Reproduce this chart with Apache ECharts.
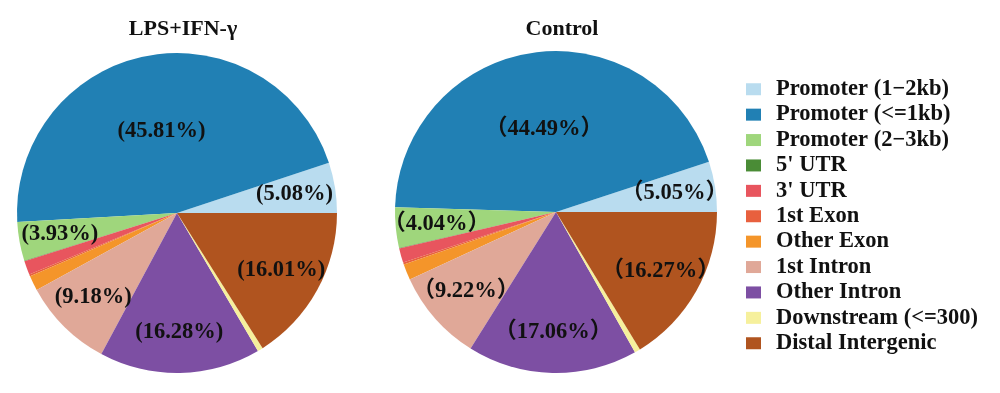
<!DOCTYPE html>
<html>
<head>
<meta charset="utf-8">
<script src="https://cdn.jsdelivr.net/npm/echarts@6/dist/echarts.min.js"></script>
<style>html,body{margin:0;padding:0;background:#fff;}#main{width:1000px;height:393px;}</style>
</head>
<body>
<div id="main"></div>
<script>
const categories = ['Promoter (1\u22122kb)', 'Promoter (<=1kb)', 'Promoter (2\u22123kb)', "5' UTR", "3' UTR", '1st Exon', 'Other Exon', '1st Intron', 'Other Intron', 'Downstream (<=300)', 'Distal Intergenic'];
const lpsValues = [5.08, 45.81, 3.93, 0.05, 1.40, 0.20, 1.51, 9.18, 16.28, 0.55, 16.01];
const ctrlValues = [5.05, 44.49, 4.04, 0.05, 1.45, 0.20, 1.60, 9.22, 17.06, 0.57, 16.27];
const labeledIdx = [0, 2, 7, 8, 10];
const bigIdx = 1;
const pieTitles = ['LPS+IFN-\u03b3', 'Control'];
const colors = ['#b9dcef', '#2180b4', '#9fd67c', '#4a8c36', '#e8555e', '#e8603e', '#f4952a', '#e0a898', '#7d4fa3', '#f6f09c', '#b0541f'];

const FONT = "'Liberation Serif', 'Noto Sans CJK SC', serif";
const chart = echarts.init(document.getElementById('main'), null, {renderer: 'canvas'});

function fmt(v, fullWidth) {
  return fullWidth ? '\uff08' + v.toFixed(2) + '%\uff09' : '(' + v.toFixed(2) + '%)';
}
const labelStyle = {color: '#111', fontFamily: FONT, fontWeight: 'bold', fontSize: 22.5};

function mainSeries(values, center, radius, fullWidth) {
  return {
    type: 'pie', center: center, radius: [0, radius], clockwise: false, startAngle: 0,
    silent: true, animation: false,
    label: {show: false},
    labelLine: {show: false},
    itemStyle: {borderWidth: 0},
    data: values.map((v, i) => ({
      name: categories[i], value: v,
      itemStyle: {color: colors[i]},
      label: i === bigIdx ? Object.assign({show: true, position: 'inside', formatter: fmt(v, fullWidth)}, labelStyle) : {show: false}
    }))
  };
}
function overlaySeries(values, center, radius, fullWidth) {
  return {
    type: 'pie', center: center, radius: [0, radius], clockwise: false, startAngle: 0,
    silent: true, animation: false, legendHoverLink: false,
    labelLine: {show: false},
    data: values.map((v, i) => ({
      name: categories[i], value: v,
      itemStyle: {color: 'rgba(0,0,0,0)'},
      label: labeledIdx.indexOf(i) >= 0 ? Object.assign({show: true, position: 'inside', formatter: fmt(v, fullWidth)}, labelStyle) : {show: false}
    }))
  };
}

chart.setOption({
  backgroundColor: '#fff',
  animation: false,
  title: [
    {text: pieTitles[0], left: 178, top: 13, textAlign: 'center', textStyle: {fontFamily: FONT, fontWeight: 'bold', fontSize: 22, color: '#111'}},
    {text: pieTitles[1], left: 557, top: 13, textAlign: 'center', textStyle: {fontFamily: FONT, fontWeight: 'bold', fontSize: 22, color: '#111'}}
  ],
  legend: {
    orient: 'vertical', left: 741, top: 73,
    itemWidth: 15, itemHeight: 12, itemGap: 2.9,
    icon: 'rect', selectedMode: false,
    textStyle: {fontFamily: FONT, fontWeight: 'bold', fontSize: 22.5, color: '#111', padding: [0, 0, 0, 10]},
    data: categories.map((c, i) => ({name: c, itemStyle: {color: colors[i]}}))
  },
  series: [
    mainSeries(lpsValues, [177, 213], 160, false),
    mainSeries(ctrlValues, [556, 212], 161, true),
    overlaySeries(lpsValues, [177, 213], 232, false),
    overlaySeries(ctrlValues, [556, 212], 234, true)
  ]
});
</script>
</body>
</html>
